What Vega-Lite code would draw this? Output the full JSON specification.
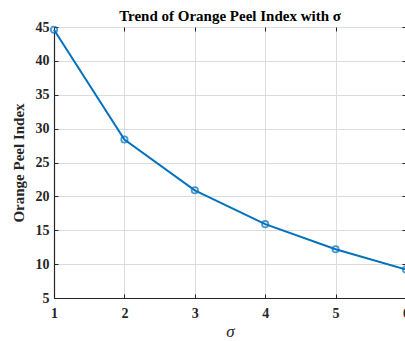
{
  "$schema": "https://vega.github.io/schema/vega-lite/v6.json",
  "width": 352,
  "height": 271,
  "autosize": {"type": "none"},
  "padding": {"left": 54, "top": 27, "right": 0, "bottom": 43},
  "background": "white",
  "title": {
    "text": "Trend of Orange Peel Index with σ",
    "font": "Liberation Serif",
    "fontSize": 15,
    "fontWeight": "bold",
    "color": "#000000",
    "offset": -4,
    "anchor": "middle"
  },
  "config": {
    "view": {"stroke": "#262626", "strokeWidth": 1},
    "axis": {
      "labelFont": "Liberation Serif",
      "labelFontSize": 14,
      "labelFontWeight": "bold",
      "labelColor": "#262626",
      "titleFont": "Liberation Serif",
      "titleFontSize": 15,
      "titleFontWeight": "bold",
      "titleColor": "#262626",
      "domainColor": "#262626",
      "domainWidth": 1.2,
      "tickColor": "#262626",
      "tickSize": -4,
      "tickWidth": 1,
      "gridColor": "#dcdcdc",
      "gridWidth": 1
    }
  },
  "data": {
    "values": [
      {"sigma": 1, "opi": 44.6},
      {"sigma": 2, "opi": 28.4},
      {"sigma": 3, "opi": 20.9},
      {"sigma": 4, "opi": 15.9},
      {"sigma": 5, "opi": 12.2},
      {"sigma": 6, "opi": 9.2}
    ]
  },
  "layer": [
    {
      "mark": {"type": "line", "color": "#0072BD", "strokeWidth": 2, "clip": false},
      "encoding": {
        "x": {
          "field": "sigma", "type": "quantitative",
          "scale": {"domain": [1, 6], "nice": false, "zero": false},
          "axis": {"orient": "bottom", "values": [1, 2, 3, 4, 5, 6], "grid": true, "title": "σ", "titleFontStyle": "italic", "titleFontWeight": "normal", "titleFontSize": 17, "labelPadding": 12, "titlePadding": 3, "labelFlush": false}
        },
        "y": {
          "field": "opi", "type": "quantitative",
          "scale": {"domain": [5, 45], "nice": false, "zero": false},
          "axis": {"orient": "left", "values": [5, 10, 15, 20, 25, 30, 35, 40, 45], "grid": true, "title": "Orange Peel Index", "labelPadding": 9, "titlePadding": 9, "labelFlush": false}
        }
      }
    },
    {
      "mark": {"type": "point", "shape": "circle", "filled": false, "color": "#0072BD", "strokeWidth": 1.8, "size": 40, "clip": false},
      "encoding": {
        "x": {"field": "sigma", "type": "quantitative", "axis": {"orient": "top", "values": [1, 2, 3, 4, 5, 6], "labels": false, "title": null, "grid": false, "domain": false}},
        "y": {"field": "opi", "type": "quantitative", "axis": {"orient": "right", "values": [5, 10, 15, 20, 25, 30, 35, 40, 45], "labels": false, "title": null, "grid": false, "domain": false}}
      }
    }
  ],
  "resolve": {"axis": {"x": "independent", "y": "independent"}}
}
